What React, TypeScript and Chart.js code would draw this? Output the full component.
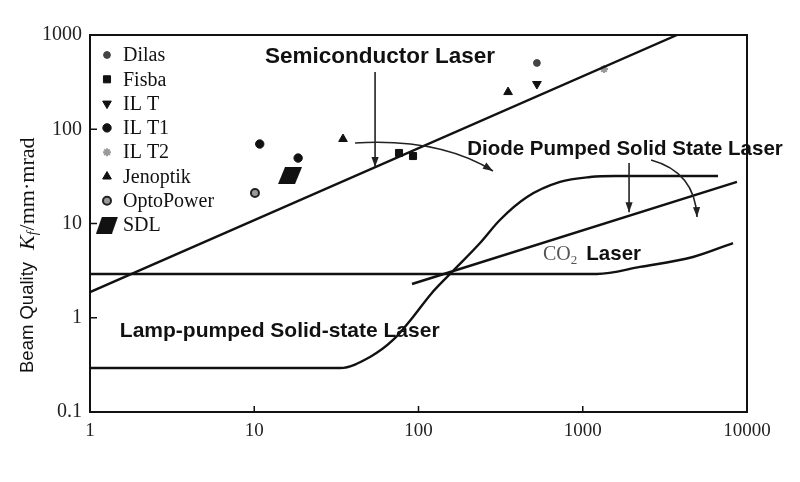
import React, { useEffect, useRef } from 'react';
import { Chart, registerables } from 'chart.js';
import { drawPoint } from 'chart.js/helpers';

Chart.register(...registerables);

const SANS = '"Liberation Sans", Arial, sans-serif';
const SERIF = '"Liberation Serif", "Times New Roman", serif';
const INK = '#111';

// Axis decades
const X_TICKS = [1, 10, 100, 1000, 10000];
const Y_TICKS = [0.1, 1, 10, 100, 1000];

// Laser families: output power (W) vs. beam quality Kf (mm·mrad)
const semiconductorX = [1, 3750];
const semiconductorY = [1.87, 1000];

const co2X = [1, 1222, 2233, 4690, 8220];
const co2Y = [2.91, 2.91, 3.46, 4.41, 6.2];

const dpssX = [91.3, 8690];
const dpssY = [2.28, 27.6];

const lampX = [1, 33.3, 50.7, 70.0, 92.6, 119.2, 160, 237, 313, 458, 727, 1107, 1571, 6660];
const lampY = [0.293, 0.293, 0.384, 0.581, 1.02, 1.79, 3.06, 6.21, 10.9, 19.1, 27.6, 31.1, 31.9, 31.9];

// Diode laser products
const dilasX = [526];
const dilasY = [505];
const fisbaX = [76.1, 92.6];
const fisbaY = [56.0, 52.0];
const iltX = [526];
const iltY = [302];
const ilt1X = [10.8, 18.5];
const ilt1Y = [69.7, 49.5];
const ilt2X = [1347];
const ilt2Y = [436];
const jenoptikX = [34.7, 351];
const jenoptikY = [78.8, 248];
const optoPowerX = [10.1];
const optoPowerY = [21.1];
const sdlX = [16.5];
const sdlY = [32.3];

// Arrows (data coordinates); "via" makes a curved arrow
const arrows = [
  { from: [54.4, 404], to: [54.4, 39.8] },
  { from: [41.1, 71.5], via: [135, 80.8], to: [284, 36.1] },
  { from: [1914, 43.8], to: [1914, 13.2] },
  { from: [2605, 47.2], via: [4820, 35.2], to: [4963, 11.7] },
];

// Text labels (data coordinates of the baseline anchor)
const labels = [
  { text: 'Semiconductor Laser', x: 58.3, y: 505, align: 'center', size: 22.5 },
  { text: 'Diode Pumped Solid State Laser', x: 1808, y: 53.3, align: 'center', size: 20.5 },
  { text: 'Lamp-pumped Solid-state Laser', x: 1.52, y: 0.625, align: 'left', size: 21 },
];
const co2Label = { x: 573, y: 4.1 };

const pts = (xs: number[], ys: number[]) => xs.map((x, i) => ({ x, y: ys[i] }));

function makeParallelogram(w: number, h: number, slant: number) {
  const c = document.createElement('canvas');
  c.width = w;
  c.height = h;
  const g = c.getContext('2d')!;
  g.fillStyle = INK;
  g.beginPath();
  g.moveTo(slant, 0);
  g.lineTo(w, 0);
  g.lineTo(w - slant, h);
  g.lineTo(0, h);
  g.closePath();
  g.fill();
  return c;
}

function lineSet(label: string, xs: number[], ys: number[], smooth: boolean) {
  return {
    label,
    data: pts(xs, ys),
    showLine: true,
    borderColor: INK,
    borderWidth: 2.4,
    pointRadius: 0,
    fill: false,
    cubicInterpolationMode: smooth ? 'monotone' : 'default',
    tension: 0,
  };
}

export default function App() {
  const ref = useRef<HTMLCanvasElement>(null);

  useEffect(() => {
    const canvas = ref.current;
    if (!canvas) return;
    const sdlMark = makeParallelogram(24, 17, 7);
    const sdlLegend = makeParallelogram(22, 17, 6);

    const products = [
      { label: 'Dilas', xs: dilasX, ys: dilasY, style: 'circle', r: 3.4, bg: '#444', bc: '#444', bw: 1 },
      { label: 'Fisba', xs: fisbaX, ys: fisbaY, style: 'rect', r: 5, bg: INK, bc: INK, bw: 1 },
      { label: 'IL T', xs: iltX, ys: iltY, style: 'triangle', rot: 180, r: 5, bg: INK, bc: INK, bw: 1 },
      { label: 'IL T1', xs: ilt1X, ys: ilt1Y, style: 'circle', r: 4.2, bg: INK, bc: INK, bw: 1 },
      { label: 'IL T2', xs: ilt2X, ys: ilt2Y, style: 'star', r: 4, bg: '#999', bc: '#9a9a9a', bw: 2 },
      { label: 'Jenoptik', xs: jenoptikX, ys: jenoptikY, style: 'triangle', r: 5, bg: INK, bc: INK, bw: 1 },
      { label: 'OptoPower', xs: optoPowerX, ys: optoPowerY, style: 'circle', r: 4, bg: '#9a9a9a', bc: '#222', bw: 2 },
      { label: 'SDL', xs: sdlX, ys: sdlY, style: sdlMark, legendStyle: sdlLegend, r: 10, bg: INK, bc: INK, bw: 1 },
    ];

    const productSets = products.map((p: any) => ({
      label: p.label,
      data: pts(p.xs, p.ys),
      showLine: false,
      pointStyle: p.style,
      pointRotation: p.rot || 0,
      pointRadius: p.r,
      pointBackgroundColor: p.bg,
      pointBorderColor: p.bc,
      pointBorderWidth: p.bw,
    }));

    const decor = {
      id: 'decor',
      afterDatasetsDraw(chart: any) {
        const { ctx, chartArea: ca, scales } = chart;
        const xs = scales.x;
        const ys = scales.y;
        const px = (v: number) => xs.getPixelForValue(v);
        const py = (v: number) => ys.getPixelForValue(v);
        ctx.save();

        // frame
        ctx.strokeStyle = INK;
        ctx.lineWidth = 2;
        ctx.strokeRect(ca.left, ca.top, ca.right - ca.left, ca.bottom - ca.top);

        // inward tick marks
        ctx.lineWidth = 1.5;
        ctx.beginPath();
        X_TICKS.slice(1, -1).forEach((v) => {
          const x = px(v);
          ctx.moveTo(x, ca.bottom);
          ctx.lineTo(x, ca.bottom - 6);
        });
        Y_TICKS.slice(1, -1).forEach((v) => {
          const y = py(v);
          ctx.moveTo(ca.left, y);
          ctx.lineTo(ca.left + 7, y);
        });
        ctx.stroke();

        // arrows
        arrows.forEach((a: any) => {
          const x0 = px(a.from[0]);
          const y0 = py(a.from[1]);
          const x1 = px(a.to[0]);
          const y1 = py(a.to[1]);
          let dx: number;
          let dy: number;
          ctx.strokeStyle = '#222';
          ctx.lineWidth = 1.6;
          ctx.beginPath();
          ctx.moveTo(x0, y0);
          if (a.via) {
            const cx = px(a.via[0]);
            const cy = py(a.via[1]);
            ctx.quadraticCurveTo(cx, cy, x1, y1);
            dx = x1 - cx;
            dy = y1 - cy;
          } else {
            ctx.lineTo(x1, y1);
            dx = x1 - x0;
            dy = y1 - y0;
          }
          ctx.stroke();
          const ang = Math.atan2(dy, dx);
          const len = 10;
          const half = 3.6;
          ctx.fillStyle = '#222';
          ctx.beginPath();
          ctx.moveTo(x1, y1);
          ctx.lineTo(
            x1 - len * Math.cos(ang) + half * Math.sin(ang),
            y1 - len * Math.sin(ang) - half * Math.cos(ang)
          );
          ctx.lineTo(
            x1 - len * Math.cos(ang) - half * Math.sin(ang),
            y1 - len * Math.sin(ang) + half * Math.cos(ang)
          );
          ctx.closePath();
          ctx.fill();
        });

        // family labels
        ctx.fillStyle = INK;
        ctx.textBaseline = 'alphabetic';
        labels.forEach((l) => {
          ctx.font = `bold ${l.size}px ${SANS}`;
          ctx.textAlign = l.align as CanvasTextAlign;
          ctx.fillText(l.text, px(l.x), py(l.y));
        });

        // CO2 Laser
        {
          let x = px(co2Label.x);
          const y = py(co2Label.y);
          ctx.textAlign = 'left';
          ctx.fillStyle = '#555';
          ctx.font = `20px ${SERIF}`;
          ctx.fillText('CO', x, y);
          x += ctx.measureText('CO').width;
          ctx.font = `13px ${SERIF}`;
          ctx.fillText('2', x, y + 4);
          x += ctx.measureText('2').width + 9;
          ctx.fillStyle = INK;
          ctx.font = `bold 20.5px ${SANS}`;
          ctx.fillText('Laser', x, y);
        }

        // legend
        const lx = ca.left + 17;
        const tx = ca.left + 33;
        const ly0 = ca.top + 20;
        const step = 24.3;
        products.forEach((p: any, i: number) => {
          const y = ly0 + i * step;
          ctx.fillStyle = p.bg;
          ctx.strokeStyle = p.bc;
          ctx.lineWidth = p.bw;
          const style = p.legendStyle || p.style;
          drawPoint(ctx, { pointStyle: style, rotation: p.rot || 0, radius: p.r, borderWidth: p.bw }, lx, y);
          ctx.fillStyle = INK;
          ctx.font = `20px ${SERIF}`;
          ctx.textAlign = 'left';
          ctx.textBaseline = 'middle';
          ctx.fillText(p.label, tx, y + 1);
        });

        // y-axis title
        ctx.save();
        ctx.translate(ca.left - 62, ca.bottom - 39);
        ctx.rotate(-Math.PI / 2);
        ctx.textAlign = 'left';
        ctx.textBaseline = 'middle';
        ctx.fillStyle = INK;
        ctx.font = `18.5px ${SANS}`;
        ctx.fillText('Beam Quality', 0, 0);
        let t = ctx.measureText('Beam Quality').width + 12;
        ctx.font = `italic 22px ${SERIF}`;
        ctx.fillText('K', t, 0);
        t += ctx.measureText('K').width;
        ctx.font = `italic 14px ${SERIF}`;
        ctx.fillText('f', t, 5);
        t += ctx.measureText('f').width + 1;
        ctx.font = `22px ${SERIF}`;
        ctx.fillText('/mm·mrad', t, 0);
        ctx.restore();

        ctx.restore();
      },
    };

    const chart = new Chart(canvas, {
      type: 'scatter',
      data: {
        datasets: [
          lineSet('Semiconductor Laser', semiconductorX, semiconductorY, false),
          lineSet('CO2 Laser', co2X, co2Y, true),
          lineSet('Diode Pumped Solid State Laser', dpssX, dpssY, false),
          lineSet('Lamp-pumped Solid-state Laser', lampX, lampY, true),
          ...productSets,
        ] as any,
      },
      options: {
        responsive: false,
        animation: false,
        layout: { padding: { left: 0, top: 35, right: 53, bottom: 0 } },
        plugins: {
          legend: { display: false },
          tooltip: { enabled: false },
        },
        scales: {
          x: {
            type: 'logarithmic',
            min: 1,
            max: 10000,
            afterBuildTicks: (s: any) => {
              s.ticks = X_TICKS.map((v) => ({ value: v }));
            },
            afterFit: (s: any) => {
              s.height = 70;
            },
            grid: { display: false, drawTicks: false },
            border: { display: false },
            ticks: {
              autoSkip: false,
              maxRotation: 0,
              padding: 8,
              color: '#222',
              font: { family: SERIF, size: 19 },
              callback: (v: any) => String(v),
            },
          },
          y: {
            type: 'logarithmic',
            min: 0.1,
            max: 1000,
            afterBuildTicks: (s: any) => {
              s.ticks = Y_TICKS.map((v) => ({ value: v }));
            },
            afterFit: (s: any) => {
              s.width = 90;
            },
            grid: { display: false, drawTicks: false },
            border: { display: false },
            ticks: {
              autoSkip: false,
              padding: 8,
              color: '#222',
              font: { family: SERIF, size: 20 },
              callback: (v: any) => String(v),
            },
          },
        },
      } as any,
      plugins: [decor],
    });

    return () => chart.destroy();
  }, []);

  return (
    <div style={{ position: 'absolute', left: 0, top: 0, width: 800, height: 482, background: '#fff' }}>
      <canvas ref={ref} width={800} height={482} />
    </div>
  );
}
